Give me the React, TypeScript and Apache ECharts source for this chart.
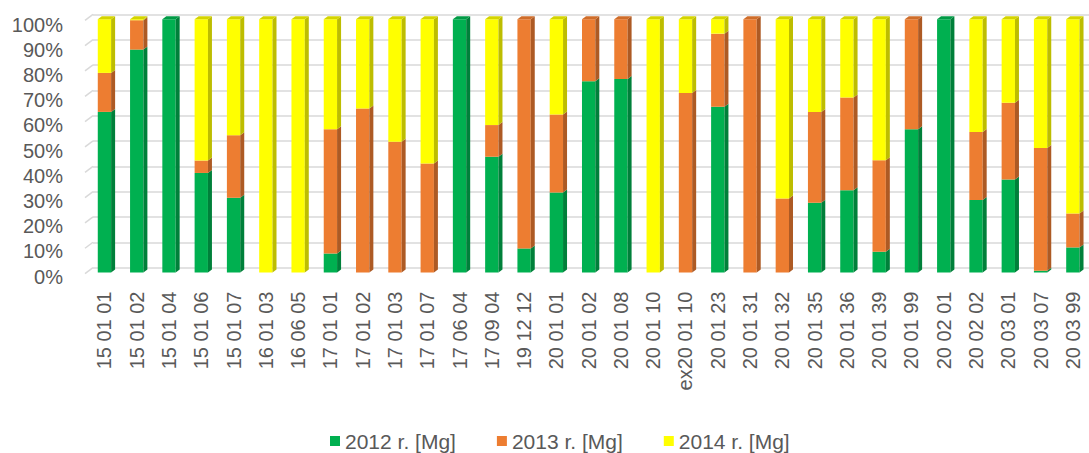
import React, { useEffect, useRef } from "react";
import * as echarts from "echarts";

const categories = [
  "15 01 01", "15 01 02", "15 01 04", "15 01 06", "15 01 07", "16 01 03", "16 06 05",
  "17 01 01", "17 01 02", "17 01 03", "17 01 07", "17 06 04", "17 09 04", "19 12 12",
  "20 01 01", "20 01 02", "20 01 08", "20 01 10", "ex20 01 10", "20 01 23", "20 01 31",
  "20 01 32", "20 01 35", "20 01 36", "20 01 39", "20 01 99", "20 02 01", "20 02 02",
  "20 03 01", "20 03 07", "20 03 99",
];

const seriesNames = ["2012 r. [Mg]", "2013 r. [Mg]", "2014 r. [Mg]"];

const share2012 = [63.4, 88.0, 100, 39.3, 29.5, 0, 0, 7.5, 0, 0, 0, 100, 45.7, 9.5, 31.6, 75.5, 76.4, 0, 0, 65.4, 0, 0, 27.5, 32.5, 8.2, 56.6, 100, 28.6, 36.7, 0.7, 9.9];
const share2013 = [15.4, 11.6, 0, 4.9, 24.7, 0, 0, 49.1, 64.7, 51.6, 43.0, 0, 12.5, 90.5, 30.8, 24.5, 23.6, 0, 70.9, 28.9, 100, 29.2, 35.9, 36.6, 36.1, 43.4, 0, 26.9, 30.3, 48.5, 13.4];
const share2014 = [21.2, 0.4, 0, 55.8, 45.8, 100, 100, 43.4, 35.3, 48.4, 57.0, 0, 41.8, 0, 37.6, 0, 0, 100, 29.1, 5.7, 0, 70.8, 36.6, 30.9, 55.7, 0, 0, 44.5, 33.0, 50.8, 76.7];

const percentTicks = [0, 10, 20, 30, 40, 50, 60, 70, 80, 90, 100];

const FRONT = ["#00b050", "#ed7d31", "#ffff00"];
const SIDE = ["#00803a", "#ad5a24", "#bdbd00"];
const TOP = ["#009a45", "#cf6d2a", "#d4d400"];

const TEXT = "#595959";
const FONT = "Liberation Sans";

function buildSeriesData(k: number) {
  const all = [share2012, share2013, share2014];
  const out: any[] = [];
  categories.forEach((_, i) => {
    const total = all.reduce((s, a) => s + a[i], 0) || 1;
    let start = 0;
    for (let j = 0; j < k; j++) start += (all[j][i] / total) * 100;
    const v = (all[k][i] / total) * 100;
    if (v <= 0) return;
    let laterSum = 0;
    for (let j = k + 1; j < all.length; j++) laterSum += all[j][i];
    out.push({ value: [i, start, start + v, laterSum > 0 ? 0 : 1] });
  });
  return out;
}

export default function App() {
  const ref = useRef<HTMLDivElement>(null);
  useEffect(() => {
    if (!ref.current) return;
    const chart = echarts.init(ref.current, null, { renderer: "svg" });
    const DX = 4, DY = 3;
    const barSeries = [0, 1, 2].map((k) => ({
      type: "custom",
      name: seriesNames[k],
      xAxisIndex: 0,
      yAxisIndex: 0,
      itemStyle: { color: FRONT[k] },
      encode: { x: 0, y: [1, 2] },
      data: buildSeriesData(k),
      renderItem: (params: any, api: any) => {
        const i = api.value(0);
        const s = api.value(1);
        const e = api.value(2);
        const isTop = api.value(3);
        const pb = api.coord([i, s]);
        const pt = api.coord([i, e]);
        const bw = api.size([1, 0])[0] * 0.413;
        const x0 = pb[0] - bw / 2;
        const x1 = pb[0] + bw / 2;
        const yb = pb[1];
        const yt = pt[1];
        const children: any[] = [
          {
            type: "rect",
            shape: { x: x0, y: yt, width: bw, height: yb - yt },
            style: { fill: FRONT[k] },
          },
          {
            type: "polygon",
            shape: { points: [[x1, yb], [x1, yt], [x1 + DX, yt - DY], [x1 + DX, yb - DY]] },
            style: { fill: SIDE[k] },
          },
        ];
        if (isTop) {
          children.push({
            type: "polygon",
            shape: { points: [[x0, yt], [x1, yt], [x1 + DX, yt - DY], [x0 + DX, yt - DY]] },
            style: { fill: TOP[k] },
          });
        }
        return { type: "group", children };
      },
    }));

    const option: any = {
      animation: false,
      textStyle: { fontFamily: FONT },
      grid: [
        { left: 88.3, width: 1004.4, top: 19.2, height: 253.3 },
        { left: 93, right: 0, top: 14.3, height: 253.3 },
        { left: 70, width: 1, top: 24.5, height: 252 },
      ],
      xAxis: [
        {
          type: "category",
          gridIndex: 0,
          data: categories,
          boundaryGap: true,
          axisLine: { show: false },
          axisTick: { show: false },
          axisLabel: { rotate: 90, margin: 19, fontSize: 20, color: TEXT, interval: 0, fontFamily: FONT },
        },
        { type: "value", gridIndex: 1, min: 0, max: 1, show: false },
        { type: "value", gridIndex: 2, min: 0, max: 1, show: false },
      ],
      yAxis: [
        { type: "value", gridIndex: 0, min: 0, max: 100, show: false },
        {
          type: "value",
          gridIndex: 1,
          min: 0,
          max: 100,
          interval: 10,
          axisLine: { show: false },
          axisTick: { show: false },
          axisLabel: { show: false },
          splitLine: { show: true, lineStyle: { color: "#d9d9d9", width: 1.5 } },
        },
        {
          type: "value",
          gridIndex: 2,
          min: 0,
          max: 100,
          interval: 10,
          axisLine: { show: false },
          axisTick: { show: false },
          splitLine: { show: false },
          axisLabel: { formatter: "{value}%", margin: 7, fontSize: 20, color: TEXT, fontFamily: FONT },
        },
      ],
      legend: {
        left: 330,
        top: 429,
        padding: 0,
        itemWidth: 10,
        itemHeight: 10,
        itemGap: 41,
        textStyle: { fontSize: 21, color: TEXT, fontFamily: FONT, lineHeight: 24 },
        data: seriesNames.map((n) => ({ name: n, icon: "rect" })),
      },
      series: [
        {
          type: "custom",
          name: "floor-edges",
          xAxisIndex: 1,
          yAxisIndex: 1,
          silent: true,
          data: percentTicks.map((t) => [0, t]),
          renderItem: (params: any, api: any) => {
            const p = api.coord([0, api.value(1)]);
            return {
              type: "line",
              shape: { x1: p[0] - 8, y1: p[1] + 6, x2: p[0], y2: p[1] },
              style: { stroke: "#d9d9d9", lineWidth: 1.5 },
            };
          },
        },
        ...barSeries,
      ],
    };
    chart.setOption(option);
    return () => chart.dispose();
  }, []);
  return (
    <div
      ref={ref}
      style={{ position: "fixed", left: 0, top: 0, width: 1089, height: 453, background: "#fff" }}
    />
  );
}
